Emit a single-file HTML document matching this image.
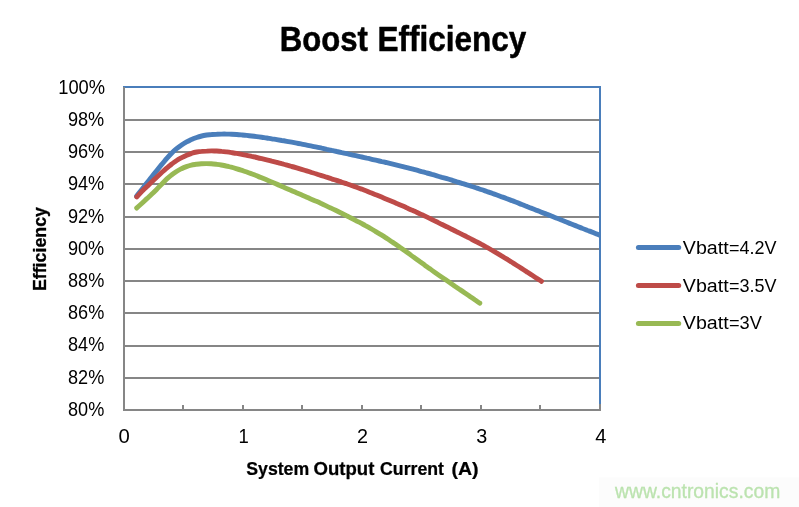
<!DOCTYPE html>
<html><head><meta charset="utf-8"><title>Boost Efficiency</title>
<style>html,body{margin:0;padding:0;background:#fff;}body{width:799px;height:507px;overflow:hidden;}svg{display:block;will-change:transform;}text{font-family:'Liberation Sans', sans-serif;}</style>
</head><body>
<svg width="799" height="507" viewBox="0 0 799 507">
<rect x="0" y="0" width="799" height="507" fill="#ffffff"/>
<rect x="599" y="477.5" width="200" height="29.5" fill="#fcfcfc"/>
<rect x="124" y="119" width="475" height="2" fill="#868686"/>
<rect x="124" y="151" width="475" height="2" fill="#868686"/>
<rect x="124" y="183" width="475" height="2" fill="#868686"/>
<rect x="124" y="216" width="475" height="2" fill="#868686"/>
<rect x="124" y="248" width="475" height="2" fill="#868686"/>
<rect x="124" y="280" width="475" height="2" fill="#868686"/>
<rect x="124" y="312" width="475" height="2" fill="#868686"/>
<rect x="124" y="345" width="475" height="2" fill="#868686"/>
<rect x="124" y="377" width="475" height="2" fill="#868686"/>
<defs><clipPath id="pc"><rect x="124" y="87" width="476" height="323"/></clipPath></defs>
<g clip-path="url(#pc)" fill="none" stroke-width="4.9" stroke-linecap="round" stroke-linejoin="round">
<path d="M136.6,196.2 C137.4,195.1 139.9,192.0 141.6,189.8 C143.3,187.7 144.9,185.5 146.6,183.3 C148.3,181.2 149.9,179.1 151.6,177.0 C153.3,174.9 154.9,172.9 156.6,170.8 C158.3,168.8 160.0,166.7 161.6,164.6 C163.3,162.6 165.0,160.5 166.6,158.6 C168.3,156.7 170.0,154.8 171.6,153.2 C173.3,151.5 175.0,150.0 176.6,148.7 C178.3,147.3 180.0,146.1 181.6,145.0 C183.3,143.8 185.0,142.8 186.6,141.9 C188.3,141.0 190.0,140.2 191.6,139.4 C193.3,138.7 195.0,138.1 196.7,137.5 C198.3,136.9 200.0,136.4 201.7,136.0 C203.3,135.6 205.0,135.3 206.7,135.0 C208.3,134.8 210.0,134.6 211.7,134.5 C213.3,134.3 215.0,134.2 216.7,134.2 C218.3,134.1 220.0,134.1 221.7,134.1 C223.3,134.0 225.0,134.0 226.7,134.1 C228.3,134.1 230.0,134.2 231.7,134.2 C233.3,134.3 235.0,134.4 236.7,134.5 C238.4,134.7 240.0,134.8 241.7,134.9 C243.4,135.1 245.0,135.3 246.7,135.4 C248.4,135.6 250.0,135.8 251.7,136.0 C253.4,136.2 255.0,136.4 256.7,136.6 C258.4,136.9 260.0,137.1 261.7,137.3 C263.4,137.5 265.0,137.8 266.7,138.0 C268.4,138.3 270.0,138.5 271.7,138.8 C273.4,139.1 275.1,139.3 276.7,139.6 C278.4,139.9 280.1,140.2 281.7,140.5 C283.4,140.7 285.1,141.0 286.7,141.3 C288.4,141.6 290.1,141.9 291.7,142.2 C293.4,142.5 295.1,142.8 296.7,143.1 C298.4,143.5 300.1,143.8 301.7,144.1 C303.4,144.4 305.1,144.8 306.7,145.1 C308.4,145.4 310.1,145.8 311.8,146.1 C313.4,146.4 315.1,146.8 316.8,147.1 C318.4,147.5 320.1,147.8 321.8,148.2 C323.4,148.5 325.1,148.9 326.8,149.3 C328.4,149.6 330.1,150.0 331.8,150.4 C333.4,150.7 335.1,151.1 336.8,151.5 C338.4,151.8 340.1,152.2 341.8,152.6 C343.4,152.9 345.1,153.3 346.8,153.7 C348.4,154.1 350.1,154.4 351.8,154.8 C353.5,155.2 355.1,155.5 356.8,155.9 C358.5,156.3 360.1,156.7 361.8,157.0 C363.5,157.4 365.1,157.8 366.8,158.2 C368.5,158.5 370.1,158.9 371.8,159.3 C373.5,159.7 375.1,160.0 376.8,160.4 C378.5,160.8 380.1,161.2 381.8,161.6 C383.5,161.9 385.1,162.3 386.8,162.7 C388.5,163.1 390.2,163.5 391.8,163.9 C393.5,164.3 395.2,164.7 396.8,165.1 C398.5,165.5 400.2,165.9 401.8,166.3 C403.5,166.7 405.2,167.2 406.8,167.6 C408.5,168.0 410.2,168.5 411.8,168.9 C413.5,169.3 415.2,169.8 416.8,170.2 C418.5,170.7 420.2,171.1 421.8,171.6 C423.5,172.0 425.2,172.5 426.8,173.0 C428.5,173.4 430.2,173.9 431.9,174.4 C433.5,174.8 435.2,175.3 436.9,175.8 C438.5,176.3 440.2,176.8 441.9,177.3 C443.5,177.7 445.2,178.2 446.9,178.7 C448.5,179.2 450.2,179.7 451.9,180.2 C453.5,180.7 455.2,181.2 456.9,181.8 C458.5,182.3 460.2,182.8 461.9,183.3 C463.5,183.8 465.2,184.3 466.9,184.9 C468.6,185.4 470.2,185.9 471.9,186.5 C473.6,187.0 475.2,187.6 476.9,188.1 C478.6,188.7 480.2,189.2 481.9,189.8 C483.6,190.4 485.2,190.9 486.9,191.5 C488.6,192.1 490.2,192.7 491.9,193.2 C493.6,193.8 495.2,194.4 496.9,195.0 C498.6,195.6 500.2,196.2 501.9,196.9 C503.6,197.5 505.3,198.1 506.9,198.7 C508.6,199.3 510.3,200.0 511.9,200.6 C513.6,201.3 515.3,201.9 516.9,202.5 C518.6,203.2 520.3,203.8 521.9,204.5 C523.6,205.1 525.3,205.8 526.9,206.4 C528.6,207.1 530.3,207.8 531.9,208.4 C533.6,209.1 535.3,209.7 536.9,210.4 C538.6,211.0 540.3,211.7 541.9,212.4 C543.6,213.0 545.3,213.7 547.0,214.3 C548.6,215.0 550.3,215.7 552.0,216.3 C553.6,217.0 555.3,217.6 557.0,218.3 C558.6,218.9 560.3,219.6 562.0,220.3 C563.6,220.9 565.3,221.6 567.0,222.2 C568.6,222.9 570.3,223.6 572.0,224.2 C573.6,224.9 575.3,225.5 577.0,226.2 C578.6,226.9 580.3,227.5 582.0,228.2 C583.7,228.8 585.3,229.5 587.0,230.2 C588.7,230.8 590.3,231.5 592.0,232.1 C593.7,232.8 595.3,233.5 597.0,234.1 C598.7,234.8 601.2,235.8 602.0,236.1" stroke="#4a7ebb"/>
<path d="M136.8,196.9 C137.6,196.0 140.1,193.3 141.7,191.6 C143.4,189.9 145.1,188.3 146.7,186.7 C148.4,185.1 150.1,183.6 151.7,182.0 C153.4,180.4 155.1,178.7 156.7,177.2 C158.4,175.6 160.1,174.0 161.7,172.5 C163.4,171.0 165.1,169.6 166.7,168.2 C168.4,166.8 170.1,165.3 171.7,164.0 C173.4,162.8 175.1,161.5 176.7,160.5 C178.4,159.4 180.1,158.5 181.7,157.6 C183.4,156.7 185.1,155.9 186.7,155.2 C188.4,154.5 190.1,153.8 191.7,153.3 C193.4,152.7 195.0,152.3 196.7,152.0 C198.4,151.7 200.0,151.5 201.7,151.4 C203.4,151.2 205.0,151.1 206.7,151.1 C208.4,151.0 210.0,150.9 211.7,150.9 C213.4,150.9 215.0,151.0 216.7,151.0 C218.4,151.1 220.0,151.2 221.7,151.4 C223.4,151.5 225.0,151.7 226.7,151.9 C228.4,152.2 230.0,152.4 231.7,152.6 C233.4,152.9 235.0,153.2 236.7,153.4 C238.4,153.7 240.0,154.0 241.7,154.3 C243.4,154.6 245.0,155.0 246.7,155.3 C248.3,155.7 250.0,156.0 251.7,156.4 C253.3,156.7 255.0,157.1 256.7,157.5 C258.3,157.9 260.0,158.3 261.7,158.6 C263.3,159.0 265.0,159.4 266.7,159.8 C268.3,160.2 270.0,160.6 271.7,161.1 C273.3,161.5 275.0,161.9 276.7,162.3 C278.3,162.8 280.0,163.2 281.7,163.7 C283.3,164.1 285.0,164.6 286.7,165.0 C288.3,165.5 290.0,166.0 291.7,166.5 C293.3,166.9 295.0,167.4 296.7,167.9 C298.3,168.4 300.0,168.9 301.6,169.4 C303.3,169.9 305.0,170.4 306.6,170.9 C308.3,171.4 310.0,171.9 311.6,172.5 C313.3,173.0 315.0,173.5 316.6,174.0 C318.3,174.5 320.0,175.1 321.6,175.6 C323.3,176.1 325.0,176.6 326.6,177.2 C328.3,177.7 330.0,178.2 331.6,178.8 C333.3,179.3 335.0,179.9 336.6,180.4 C338.3,181.0 340.0,181.5 341.6,182.1 C343.3,182.6 345.0,183.2 346.6,183.7 C348.3,184.3 350.0,184.9 351.6,185.5 C353.3,186.1 354.9,186.7 356.6,187.3 C358.3,187.9 359.9,188.5 361.6,189.1 C363.3,189.8 364.9,190.4 366.6,191.0 C368.3,191.7 369.9,192.4 371.6,193.0 C373.3,193.7 374.9,194.4 376.6,195.0 C378.3,195.7 379.9,196.4 381.6,197.1 C383.3,197.8 384.9,198.5 386.6,199.2 C388.3,199.9 389.9,200.6 391.6,201.3 C393.3,202.0 394.9,202.7 396.6,203.4 C398.3,204.2 399.9,204.9 401.6,205.6 C403.3,206.3 404.9,207.0 406.6,207.8 C408.2,208.5 409.9,209.2 411.6,210.0 C413.2,210.7 414.9,211.5 416.6,212.2 C418.2,213.0 419.9,213.8 421.6,214.6 C423.2,215.3 424.9,216.1 426.6,216.9 C428.2,217.7 429.9,218.5 431.6,219.3 C433.2,220.2 434.9,221.0 436.6,221.8 C438.2,222.6 439.9,223.4 441.6,224.3 C443.2,225.1 444.9,225.9 446.6,226.7 C448.2,227.6 449.9,228.4 451.6,229.2 C453.2,230.0 454.9,230.8 456.6,231.7 C458.2,232.5 459.9,233.3 461.5,234.1 C463.2,235.0 464.9,235.8 466.5,236.6 C468.2,237.5 469.9,238.3 471.5,239.2 C473.2,240.0 474.9,240.9 476.5,241.8 C478.2,242.6 479.9,243.5 481.5,244.4 C483.2,245.3 484.9,246.3 486.5,247.2 C488.2,248.1 489.9,249.0 491.5,250.0 C493.2,251.0 494.9,251.9 496.5,252.9 C498.2,253.9 499.9,254.9 501.5,255.9 C503.2,256.9 504.9,257.9 506.5,258.9 C508.2,260.0 509.9,261.0 511.5,262.0 C513.2,263.1 514.8,264.1 516.5,265.2 C518.2,266.3 519.8,267.3 521.5,268.4 C523.2,269.5 524.8,270.5 526.5,271.6 C528.2,272.7 529.8,273.8 531.5,274.8 C533.2,275.9 534.8,277.0 536.5,278.1 C538.2,279.1 540.7,280.8 541.5,281.3" stroke="#be4b48"/>
<path d="M136.7,208.1 C137.5,207.3 140.0,205.0 141.7,203.5 C143.3,202.0 145.0,200.4 146.6,198.9 C148.3,197.3 150.0,195.8 151.6,194.3 C153.3,192.7 154.9,191.1 156.6,189.4 C158.2,187.8 159.9,185.9 161.6,184.2 C163.2,182.6 164.9,180.8 166.5,179.2 C168.2,177.7 169.8,176.2 171.5,175.0 C173.2,173.7 174.8,172.6 176.5,171.5 C178.1,170.5 179.8,169.6 181.5,168.7 C183.1,167.9 184.8,167.2 186.4,166.6 C188.1,166.0 189.7,165.5 191.4,165.1 C193.1,164.7 194.7,164.5 196.4,164.2 C198.0,164.0 199.7,163.8 201.3,163.7 C203.0,163.6 204.7,163.6 206.3,163.6 C208.0,163.6 209.6,163.7 211.3,163.8 C212.9,163.9 214.6,164.1 216.3,164.3 C217.9,164.5 219.6,164.7 221.2,165.0 C222.9,165.3 224.5,165.6 226.2,166.0 C227.9,166.3 229.5,166.8 231.2,167.2 C232.8,167.6 234.5,168.1 236.1,168.6 C237.8,169.1 239.5,169.6 241.1,170.1 C242.8,170.7 244.4,171.2 246.1,171.8 C247.8,172.4 249.4,173.0 251.1,173.6 C252.7,174.2 254.4,174.9 256.0,175.5 C257.7,176.2 259.4,176.8 261.0,177.5 C262.7,178.2 264.3,178.9 266.0,179.6 C267.6,180.3 269.3,181.0 271.0,181.7 C272.6,182.4 274.3,183.1 275.9,183.8 C277.6,184.6 279.2,185.3 280.9,186.0 C282.6,186.7 284.2,187.5 285.9,188.2 C287.5,188.9 289.2,189.6 290.8,190.3 C292.5,191.1 294.2,191.8 295.8,192.5 C297.5,193.2 299.1,193.9 300.8,194.6 C302.4,195.3 304.1,196.0 305.8,196.7 C307.4,197.4 309.1,198.2 310.7,198.9 C312.4,199.6 314.1,200.3 315.7,201.1 C317.4,201.8 319.0,202.5 320.7,203.3 C322.3,204.0 324.0,204.8 325.7,205.6 C327.3,206.4 329.0,207.2 330.6,207.9 C332.3,208.7 333.9,209.5 335.6,210.3 C337.3,211.1 338.9,212.0 340.6,212.8 C342.2,213.6 343.9,214.4 345.5,215.2 C347.2,216.1 348.9,216.9 350.5,217.8 C352.2,218.6 353.8,219.4 355.5,220.3 C357.1,221.2 358.8,222.0 360.5,222.9 C362.1,223.8 363.8,224.7 365.4,225.6 C367.1,226.5 368.7,227.4 370.4,228.4 C372.1,229.3 373.7,230.3 375.4,231.3 C377.0,232.3 378.7,233.3 380.4,234.3 C382.0,235.3 383.7,236.3 385.3,237.4 C387.0,238.5 388.6,239.6 390.3,240.7 C392.0,241.8 393.6,242.9 395.3,244.0 C396.9,245.2 398.6,246.3 400.2,247.5 C401.9,248.7 403.6,249.9 405.2,251.0 C406.9,252.2 408.5,253.4 410.2,254.6 C411.8,255.8 413.5,257.0 415.2,258.2 C416.8,259.4 418.5,260.6 420.1,261.8 C421.8,263.0 423.4,264.2 425.1,265.4 C426.8,266.6 428.4,267.8 430.1,268.9 C431.7,270.1 433.4,271.3 435.0,272.4 C436.7,273.6 438.4,274.8 440.0,275.9 C441.7,277.1 443.3,278.2 445.0,279.3 C446.7,280.5 448.3,281.6 450.0,282.8 C451.6,283.9 453.3,285.0 454.9,286.2 C456.6,287.3 458.3,288.4 459.9,289.6 C461.6,290.7 463.2,291.8 464.9,293.0 C466.5,294.1 468.2,295.3 469.9,296.4 C471.5,297.5 473.2,298.7 474.8,299.8 C476.5,300.9 479.0,302.6 479.8,303.1" stroke="#98b954"/>
</g>
<rect x="123" y="86" width="478" height="2" fill="#4a7ebb"/>
<rect x="599" y="86" width="2" height="325" fill="#4a7ebb"/>
<rect x="123" y="87" width="2" height="324" fill="#868686"/>
<rect x="123" y="409" width="477" height="2" fill="#868686"/>
<rect x="182" y="405" width="2" height="5" fill="#868686"/>
<rect x="242" y="405" width="2" height="5" fill="#868686"/>
<rect x="301" y="405" width="2" height="5" fill="#868686"/>
<rect x="361" y="405" width="2" height="5" fill="#868686"/>
<rect x="420" y="405" width="2" height="5" fill="#868686"/>
<rect x="480" y="405" width="2" height="5" fill="#868686"/>
<rect x="539" y="405" width="2" height="5" fill="#868686"/>
<rect x="599" y="404" width="2" height="7" fill="#868686"/>
<text transform="translate(58.23,93.80) scale(0.9162,1)" font-size="20.00" fill="#000">100%</text>
<text transform="translate(67.94,126.00) scale(0.9074,1)" font-size="20.00" fill="#000">98%</text>
<text transform="translate(67.94,158.20) scale(0.9074,1)" font-size="20.00" fill="#000">96%</text>
<text transform="translate(67.94,190.40) scale(0.9074,1)" font-size="20.00" fill="#000">94%</text>
<text transform="translate(67.94,222.60) scale(0.9074,1)" font-size="20.00" fill="#000">92%</text>
<text transform="translate(67.94,254.80) scale(0.9074,1)" font-size="20.00" fill="#000">90%</text>
<text transform="translate(68.03,287.00) scale(0.9051,1)" font-size="20.00" fill="#000">88%</text>
<text transform="translate(68.03,319.20) scale(0.9051,1)" font-size="20.00" fill="#000">86%</text>
<text transform="translate(68.03,351.40) scale(0.9051,1)" font-size="20.00" fill="#000">84%</text>
<text transform="translate(68.03,383.60) scale(0.9051,1)" font-size="20.00" fill="#000">82%</text>
<text transform="translate(68.03,415.80) scale(0.9051,1)" font-size="20.00" fill="#000">80%</text>
<text transform="translate(118.59,443.10) scale(1.0471,1)" font-size="19.40" fill="#000">0</text>
<text transform="translate(238.61,443.10) scale(0.9535,1)" font-size="19.40" fill="#000">1</text>
<text transform="translate(357.01,443.10) scale(1.0196,1)" font-size="19.40" fill="#000">2</text>
<text transform="translate(476.16,443.10) scale(1.0201,1)" font-size="19.40" fill="#000">3</text>
<text transform="translate(595.15,443.10) scale(1.0309,1)" font-size="19.40" fill="#000">4</text>
<text transform="translate(279.70,51.40) scale(0.9104,1)" font-size="34.20" font-weight="bold" fill="#000" stroke="#000" stroke-width="0.50" stroke-linejoin="round">Boost</text>
<text transform="translate(377.47,51.40) scale(0.9212,1)" font-size="34.20" font-weight="bold" fill="#000" stroke="#000" stroke-width="0.50" stroke-linejoin="round">Efficiency</text>
<text transform="translate(246.27,474.60) scale(0.9883,1)" font-size="17.90" font-weight="bold" fill="#000" stroke="#000" stroke-width="0.25" stroke-linejoin="round">System</text>
<text transform="translate(313.46,474.60) scale(1.0384,1)" font-size="17.90" font-weight="bold" fill="#000" stroke="#000" stroke-width="0.25" stroke-linejoin="round">Output</text>
<text transform="translate(380.09,474.60) scale(0.9893,1)" font-size="17.90" font-weight="bold" fill="#000" stroke="#000" stroke-width="0.25" stroke-linejoin="round">Current</text>
<text transform="translate(451.42,474.60) scale(1.0935,1)" font-size="17.90" font-weight="bold" fill="#000" stroke="#000" stroke-width="0.25" stroke-linejoin="round">(A)</text>
<text transform="translate(46.10,291.10) rotate(-90) scale(0.9522,1)" font-size="18.70" font-weight="bold" fill="#000" stroke="#000" stroke-width="0.30" stroke-linejoin="round">Efficiency</text>
<line x1="638.4" y1="247.5" x2="678.7" y2="247.5" stroke="#4a7ebb" stroke-width="5" stroke-linecap="round"/>
<text transform="translate(682.80,253.80) scale(1.0388,1)" font-size="18.90" fill="#000">Vbatt</text>
<text transform="translate(729.00,253.80) scale(0.9529,1)" font-size="18.90" fill="#000">=4.2V</text>
<line x1="638.4" y1="285.5" x2="678.7" y2="285.5" stroke="#be4b48" stroke-width="5" stroke-linecap="round"/>
<text transform="translate(682.80,291.80) scale(1.0388,1)" font-size="18.90" fill="#000">Vbatt</text>
<text transform="translate(729.00,291.80) scale(0.9529,1)" font-size="18.90" fill="#000">=3.5V</text>
<line x1="638.4" y1="323.5" x2="678.7" y2="323.5" stroke="#98b954" stroke-width="5" stroke-linecap="round"/>
<text transform="translate(682.80,328.90) scale(1.0388,1)" font-size="18.90" fill="#000">Vbatt</text>
<text transform="translate(728.99,328.90) scale(0.9631,1)" font-size="18.90" fill="#000">=3V</text>
<text transform="translate(615.10,497.90) scale(0.9747,1)" font-size="19.80" fill="#bbe3af" stroke="#bbe3af" stroke-width="0.30" stroke-linejoin="round">www.cntronics.com</text>
</svg>
</body></html>
